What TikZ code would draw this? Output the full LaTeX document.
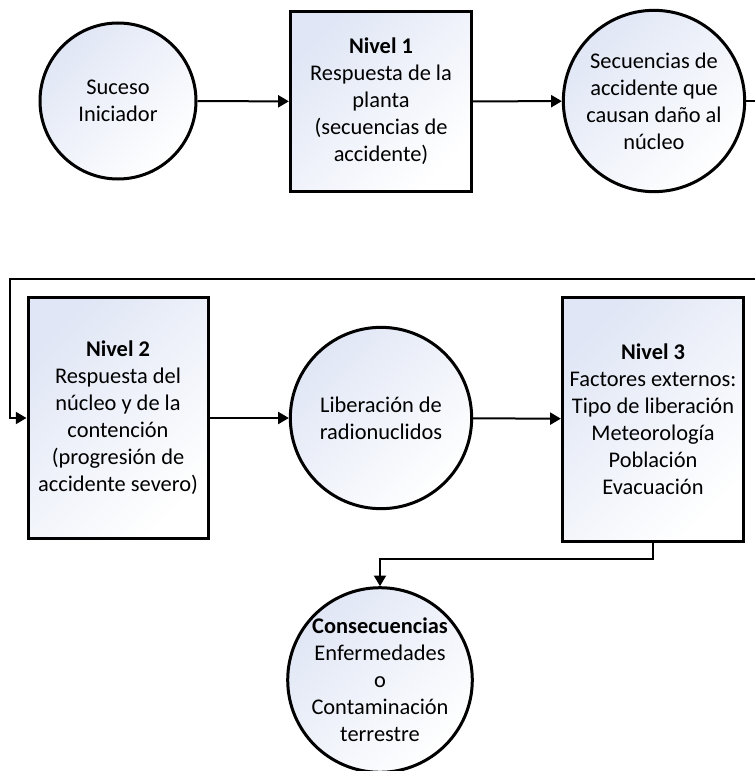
\documentclass[tikz,border=0pt]{standalone}
\usepackage{fontspec}
\setmainfont{Carlito}
\usetikzlibrary{arrows.meta}
\definecolor{shadeblue}{HTML}{E0E6F5}
\begin{document}
\begin{tikzpicture}[x=0.75pt,y=-0.75pt,
  every node/.style={font=\fontsize{16.8}{20.25}\selectfont, align=center, inner sep=0pt},
  filled/.style={draw=black, line width=2.25pt,
    top color=shadeblue, bottom color=white, shading angle=45},
  stage/.style={filled, rectangle},
  state/.style={filled, circle},
  conn/.style={draw=black, line width=1.5pt, -{Triangle[length=8pt,width=9pt]}},
  plain/.style={draw=black, line width=1.5pt}]
\useasboundingbox (0,0) rectangle (754,771);

% first row
\node[state, minimum size=117pt] (suceso) at (118,101) {Suceso\\Iniciador};
\node[stage, minimum width=136pt, minimum height=135pt] (niv1) at (381,101.5)
  {\textbf{Nivel 1}\\Respuesta de la\\planta\\(secuencias de\\accidente)};
\node[state, minimum size=136pt] (secu) at (654,101)
  {Secuencias de\\accidente que\\causan daño al\\núcleo};

% second row
\node[stage, minimum width=135pt, minimum height=181pt] (niv2) at (118,418)
  {\textbf{Nivel 2}\\Respuesta del\\núcleo y de la\\contención\\(progresión de\\accidente severo)};
\node[state, minimum size=136pt] (lib) at (381,418)
  {Liberación de\\radionuclidos};
\node[stage, minimum width=136pt, minimum height=183pt] (niv3) at (653,419)
  {\textbf{Nivel 3}\\Factores externos:\\Tipo de liberación\\Meteorología\\Población\\Evacuación};

% consequences
\node[state, minimum size=135pt] (cons) at (380,680)
  {\textbf{Consecuencias}\\Enfermedades\\o\\Contaminación\\terrestre};

% connectors
\draw[conn] (suceso) -- (niv1);
\draw[conn] (niv1) -- (secu);
\coordinate (loopR) at (757,101);
\coordinate (loopL) at (10,279);
\draw[conn] (secu.east) -- (loopR) |- (loopL) |- (niv2.west);
\draw[conn] (niv2) -- (lib);
\draw[conn] (lib) -- (niv3);
\draw[conn] (niv3.south) -- ++(0,16) -| (cons.north);
\end{tikzpicture}
\end{document}
